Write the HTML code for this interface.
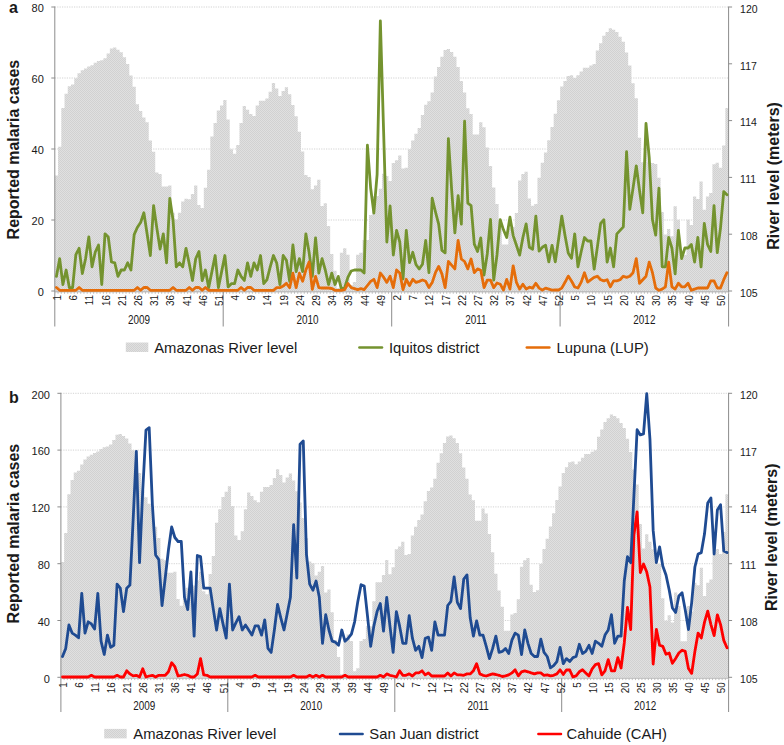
<!DOCTYPE html>
<html><head><meta charset="utf-8"><style>
html,body{margin:0;padding:0;background:#fff;}
body{width:784px;height:745px;overflow:hidden;}
svg{display:block;}
</style></head><body>
<svg width="784" height="745" viewBox="0 0 784 745" font-family='"Liberation Sans", sans-serif' fill="#1a1a1a">
<defs><pattern id="hatch" width="2" height="2" patternUnits="userSpaceOnUse"><rect width="2" height="2" fill="#e0e0e0"/><rect width="1" height="1" fill="#d1d1d1"/><rect x="1" y="1" width="1" height="1" fill="#d1d1d1"/></pattern></defs>
<rect width="784" height="745" fill="#fff"/>
<line x1="54.8" y1="220.00" x2="728.6" y2="220.00" stroke="#c8c8c8" stroke-width="0.8" stroke-dasharray="1.2,1.2"/>
<line x1="54.8" y1="149.00" x2="728.6" y2="149.00" stroke="#c8c8c8" stroke-width="0.8" stroke-dasharray="1.2,1.2"/>
<line x1="54.8" y1="78.00" x2="728.6" y2="78.00" stroke="#c8c8c8" stroke-width="0.8" stroke-dasharray="1.2,1.2"/>
<line x1="54.8" y1="7.00" x2="728.6" y2="7.00" stroke="#c8c8c8" stroke-width="0.8" stroke-dasharray="1.2,1.2"/>
<path d="M54.80,291.00L54.80,175.60L58.04,175.60L58.04,146.80L61.28,146.80L61.28,107.90L64.52,107.90L64.52,93.80L67.76,93.80L67.76,86.30L71.00,86.30L71.00,84.40L74.24,84.40L74.24,78.20L77.48,78.20L77.48,73.20L80.72,73.20L80.72,70.30L83.95,70.30L83.95,68.50L87.19,68.50L87.19,66.60L90.43,66.60L90.43,65.30L93.67,65.30L93.67,62.80L96.91,62.80L96.91,61.00L100.15,61.00L100.15,60.20L103.39,60.20L103.39,58.30L106.63,58.30L106.63,53.60L109.87,53.60L109.87,48.50L113.11,48.50L113.11,47.60L116.35,47.60L116.35,49.80L119.59,49.80L119.59,52.30L122.83,52.30L122.83,57.30L126.07,57.30L126.07,63.90L129.31,63.90L129.31,75.60L132.55,75.60L132.55,86.80L135.79,86.80L135.79,104.30L139.03,104.30L139.03,111.00L142.26,111.00L142.26,117.40L145.50,117.40L145.50,122.20L148.74,122.20L148.74,140.40L151.98,140.40L151.98,151.70L155.22,151.70L155.22,172.40L158.46,172.40L158.46,174.00L161.70,174.00L161.70,186.50L164.94,186.50L164.94,186.50L168.18,186.50L168.18,185.50L171.42,185.50L171.42,212.80L174.66,212.80L174.66,219.40L177.90,219.40L177.90,212.80L181.14,212.80L181.14,201.50L184.38,201.50L184.38,198.70L187.62,198.70L187.62,199.30L190.86,199.30L190.86,194.10L194.10,194.10L194.10,185.50L197.33,185.50L197.33,205.00L200.57,205.00L200.57,208.00L203.81,208.00L203.81,187.70L207.05,187.70L207.05,169.80L210.29,169.80L210.29,136.50L213.53,136.50L213.53,123.00L216.77,123.00L216.77,110.60L220.01,110.60L220.01,105.50L223.25,105.50L223.25,99.90L226.49,99.90L226.49,119.60L229.73,119.60L229.73,149.30L232.97,149.30L232.97,153.80L236.21,153.80L236.21,145.00L239.45,145.00L239.45,123.00L242.69,123.00L242.69,106.10L245.93,106.10L245.93,109.80L249.17,109.80L249.17,114.00L252.40,114.00L252.40,115.90L255.64,115.90L255.64,105.50L258.88,105.50L258.88,100.80L262.12,100.80L262.12,100.80L265.36,100.80L265.36,98.60L268.60,98.60L268.60,91.80L271.84,91.80L271.84,83.00L275.08,83.00L275.08,88.60L278.32,88.60L278.32,96.10L281.56,96.10L281.56,91.10L284.80,91.10L284.80,87.30L288.04,87.30L288.04,94.20L291.28,94.20L291.28,105.00L294.52,105.00L294.52,116.20L297.76,116.20L297.76,131.80L301.00,131.80L301.00,151.60L304.24,151.60L304.24,175.10L307.48,175.10L307.48,177.00L310.71,177.00L310.71,189.20L313.95,189.20L313.95,185.50L317.19,185.50L317.19,179.80L320.43,179.80L320.43,206.10L323.67,206.10L323.67,203.30L326.91,203.30L326.91,225.90L330.15,225.90L330.15,254.00L333.39,254.00L333.39,270.80L336.63,270.80L336.63,288.00L339.87,288.00L339.87,252.80L343.11,252.80L343.11,248.30L346.35,248.30L346.35,254.70L349.59,254.70L349.59,285.00L352.83,285.00L352.83,282.00L356.07,282.00L356.07,254.70L359.31,254.70L359.31,252.80L362.55,252.80L362.55,240.00L365.78,240.00L365.78,239.90L369.02,239.90L369.02,215.00L372.26,215.00L372.26,196.00L375.50,196.00L375.50,196.00L378.74,196.00L378.74,188.70L381.98,188.70L381.98,173.70L385.22,173.70L385.22,176.00L388.46,176.00L388.46,181.00L391.70,181.00L391.70,163.00L394.94,163.00L394.94,160.20L398.18,160.20L398.18,155.50L401.42,155.50L401.42,168.60L404.66,168.60L404.66,167.70L407.90,167.70L407.90,149.20L411.14,149.20L411.14,140.40L414.38,140.40L414.38,133.80L417.62,133.80L417.62,128.10L420.85,128.10L420.85,115.00L424.09,115.00L424.09,104.80L427.33,104.80L427.33,101.30L430.57,101.30L430.57,92.40L433.81,92.40L433.81,76.40L437.05,76.40L437.05,67.00L440.29,67.00L440.29,56.70L443.53,56.70L443.53,50.10L446.77,50.10L446.77,49.10L450.01,49.10L450.01,52.00L453.25,52.00L453.25,56.70L456.49,56.70L456.49,67.00L459.73,67.00L459.73,81.10L462.97,81.10L462.97,92.40L466.21,92.40L466.21,108.30L469.45,108.30L469.45,114.00L472.69,114.00L472.69,134.50L475.93,134.50L475.93,134.50L479.16,134.50L479.16,122.30L482.40,122.30L482.40,127.30L485.64,127.30L485.64,147.60L488.88,147.60L488.88,166.00L492.12,166.00L492.12,187.50L495.36,187.50L495.36,204.10L498.60,204.10L498.60,220.50L501.84,220.50L501.84,244.50L505.08,244.50L505.08,244.50L508.32,244.50L508.32,228.30L511.56,228.30L511.56,226.70L514.80,226.70L514.80,213.00L518.04,213.00L518.04,180.50L521.28,180.50L521.28,173.90L524.52,173.90L524.52,171.70L527.76,171.70L527.76,198.50L531.00,198.50L531.00,205.80L534.23,205.80L534.23,204.00L537.47,204.00L537.47,177.70L540.71,177.70L540.71,162.70L543.95,162.70L543.95,152.40L547.19,152.40L547.19,140.20L550.43,140.20L550.43,127.00L553.67,127.00L553.67,113.80L556.91,113.80L556.91,100.30L560.15,100.30L560.15,86.60L563.39,86.60L563.39,81.00L566.63,81.00L566.63,76.00L569.87,76.00L569.87,75.20L573.11,75.20L573.11,78.00L576.35,78.00L576.35,75.20L579.59,75.20L579.59,71.40L582.83,71.40L582.83,67.70L586.07,67.70L586.07,67.70L589.30,67.70L589.30,65.40L592.54,65.40L592.54,63.90L595.78,63.90L595.78,50.40L599.02,50.40L599.02,43.20L602.26,43.20L602.26,35.70L605.50,35.70L605.50,32.00L608.74,32.00L608.74,28.20L611.98,28.20L611.98,29.70L615.22,29.70L615.22,32.00L618.46,32.00L618.46,36.70L621.70,36.70L621.70,41.70L624.94,41.70L624.94,52.40L628.18,52.40L628.18,65.60L631.42,65.60L631.42,83.20L634.66,83.20L634.66,98.30L637.90,98.30L637.90,137.70L641.14,137.70L641.14,162.20L644.38,162.20L644.38,147.00L647.61,147.00L647.61,162.00L650.85,162.00L650.85,163.00L654.09,163.00L654.09,164.00L657.33,164.00L657.33,177.70L660.57,177.70L660.57,212.00L663.81,212.00L663.81,234.60L667.05,234.60L667.05,229.00L670.29,229.00L670.29,236.30L673.53,236.30L673.53,206.20L676.77,206.20L676.77,219.80L680.01,219.80L680.01,255.00L683.25,255.00L683.25,255.00L686.49,255.00L686.49,219.70L689.73,219.70L689.73,225.10L692.97,225.10L692.97,196.40L696.21,196.40L696.21,199.00L699.45,199.00L699.45,181.50L702.68,181.50L702.68,209.80L705.92,209.80L705.92,196.40L709.16,196.40L709.16,193.10L712.40,193.10L712.40,164.20L715.64,164.20L715.64,162.70L718.88,162.70L718.88,167.80L722.12,167.80L722.12,145.60L725.36,145.60L725.36,108.00L728.60,108.00L728.60,291.00Z" fill="url(#hatch)"/>
<line x1="54.8" y1="6.5" x2="54.8" y2="326.5" stroke="#8c8c8c" stroke-width="1"/>
<line x1="728.6" y1="6.5" x2="728.6" y2="326.5" stroke="#8c8c8c" stroke-width="1"/>
<line x1="54.8" y1="291.8" x2="728.6" y2="291.8" stroke="#a3a3a3" stroke-width="1"/>
<path d="M54.80,291.80v2M58.04,291.80v2M61.28,291.80v2M64.52,291.80v2M67.76,291.80v2M71.00,291.80v2M74.24,291.80v2M77.48,291.80v2M80.72,291.80v2M83.95,291.80v2M87.19,291.80v2M90.43,291.80v2M93.67,291.80v2M96.91,291.80v2M100.15,291.80v2M103.39,291.80v2M106.63,291.80v2M109.87,291.80v2M113.11,291.80v2M116.35,291.80v2M119.59,291.80v2M122.83,291.80v2M126.07,291.80v2M129.31,291.80v2M132.55,291.80v2M135.79,291.80v2M139.03,291.80v2M142.26,291.80v2M145.50,291.80v2M148.74,291.80v2M151.98,291.80v2M155.22,291.80v2M158.46,291.80v2M161.70,291.80v2M164.94,291.80v2M168.18,291.80v2M171.42,291.80v2M174.66,291.80v2M177.90,291.80v2M181.14,291.80v2M184.38,291.80v2M187.62,291.80v2M190.86,291.80v2M194.10,291.80v2M197.33,291.80v2M200.57,291.80v2M203.81,291.80v2M207.05,291.80v2M210.29,291.80v2M213.53,291.80v2M216.77,291.80v2M220.01,291.80v2M223.25,291.80v2M226.49,291.80v2M229.73,291.80v2M232.97,291.80v2M236.21,291.80v2M239.45,291.80v2M242.69,291.80v2M245.93,291.80v2M249.17,291.80v2M252.40,291.80v2M255.64,291.80v2M258.88,291.80v2M262.12,291.80v2M265.36,291.80v2M268.60,291.80v2M271.84,291.80v2M275.08,291.80v2M278.32,291.80v2M281.56,291.80v2M284.80,291.80v2M288.04,291.80v2M291.28,291.80v2M294.52,291.80v2M297.76,291.80v2M301.00,291.80v2M304.24,291.80v2M307.48,291.80v2M310.71,291.80v2M313.95,291.80v2M317.19,291.80v2M320.43,291.80v2M323.67,291.80v2M326.91,291.80v2M330.15,291.80v2M333.39,291.80v2M336.63,291.80v2M339.87,291.80v2M343.11,291.80v2M346.35,291.80v2M349.59,291.80v2M352.83,291.80v2M356.07,291.80v2M359.31,291.80v2M362.55,291.80v2M365.78,291.80v2M369.02,291.80v2M372.26,291.80v2M375.50,291.80v2M378.74,291.80v2M381.98,291.80v2M385.22,291.80v2M388.46,291.80v2M391.70,291.80v2M394.94,291.80v2M398.18,291.80v2M401.42,291.80v2M404.66,291.80v2M407.90,291.80v2M411.14,291.80v2M414.38,291.80v2M417.62,291.80v2M420.85,291.80v2M424.09,291.80v2M427.33,291.80v2M430.57,291.80v2M433.81,291.80v2M437.05,291.80v2M440.29,291.80v2M443.53,291.80v2M446.77,291.80v2M450.01,291.80v2M453.25,291.80v2M456.49,291.80v2M459.73,291.80v2M462.97,291.80v2M466.21,291.80v2M469.45,291.80v2M472.69,291.80v2M475.93,291.80v2M479.16,291.80v2M482.40,291.80v2M485.64,291.80v2M488.88,291.80v2M492.12,291.80v2M495.36,291.80v2M498.60,291.80v2M501.84,291.80v2M505.08,291.80v2M508.32,291.80v2M511.56,291.80v2M514.80,291.80v2M518.04,291.80v2M521.28,291.80v2M524.52,291.80v2M527.76,291.80v2M531.00,291.80v2M534.23,291.80v2M537.47,291.80v2M540.71,291.80v2M543.95,291.80v2M547.19,291.80v2M550.43,291.80v2M553.67,291.80v2M556.91,291.80v2M560.15,291.80v2M563.39,291.80v2M566.63,291.80v2M569.87,291.80v2M573.11,291.80v2M576.35,291.80v2M579.59,291.80v2M582.83,291.80v2M586.07,291.80v2M589.30,291.80v2M592.54,291.80v2M595.78,291.80v2M599.02,291.80v2M602.26,291.80v2M605.50,291.80v2M608.74,291.80v2M611.98,291.80v2M615.22,291.80v2M618.46,291.80v2M621.70,291.80v2M624.94,291.80v2M628.18,291.80v2M631.42,291.80v2M634.66,291.80v2M637.90,291.80v2M641.14,291.80v2M644.38,291.80v2M647.61,291.80v2M650.85,291.80v2M654.09,291.80v2M657.33,291.80v2M660.57,291.80v2M663.81,291.80v2M667.05,291.80v2M670.29,291.80v2M673.53,291.80v2M676.77,291.80v2M680.01,291.80v2M683.25,291.80v2M686.49,291.80v2M689.73,291.80v2M692.97,291.80v2M696.21,291.80v2M699.45,291.80v2M702.68,291.80v2M705.92,291.80v2M709.16,291.80v2M712.40,291.80v2M715.64,291.80v2M718.88,291.80v2M722.12,291.80v2M725.36,291.80v2M728.60,291.80v2" stroke="#b8b8b8" stroke-width="0.9" fill="none"/>
<line x1="223.2" y1="292.0" x2="223.2" y2="326.5" stroke="#8c8c8c" stroke-width="1"/>
<line x1="391.7" y1="292.0" x2="391.7" y2="326.5" stroke="#8c8c8c" stroke-width="1"/>
<line x1="560.1" y1="292.0" x2="560.1" y2="326.5" stroke="#8c8c8c" stroke-width="1"/>
<line x1="51.3" y1="291.00" x2="54.8" y2="291.00" stroke="#8c8c8c" stroke-width="1"/>
<text x="43.8" y="296.30" text-anchor="end" font-size="11">0</text>
<line x1="51.3" y1="220.00" x2="54.8" y2="220.00" stroke="#8c8c8c" stroke-width="1"/>
<text x="43.8" y="225.30" text-anchor="end" font-size="11">20</text>
<line x1="51.3" y1="149.00" x2="54.8" y2="149.00" stroke="#8c8c8c" stroke-width="1"/>
<text x="43.8" y="154.30" text-anchor="end" font-size="11">40</text>
<line x1="51.3" y1="78.00" x2="54.8" y2="78.00" stroke="#8c8c8c" stroke-width="1"/>
<text x="43.8" y="83.30" text-anchor="end" font-size="11">60</text>
<line x1="51.3" y1="7.00" x2="54.8" y2="7.00" stroke="#8c8c8c" stroke-width="1"/>
<text x="43.8" y="12.30" text-anchor="end" font-size="11">80</text>
<line x1="728.6" y1="291.00" x2="732.1" y2="291.00" stroke="#8c8c8c" stroke-width="1"/>
<text x="740.1" y="296.70" font-size="10.5">105</text>
<line x1="728.6" y1="234.20" x2="732.1" y2="234.20" stroke="#8c8c8c" stroke-width="1"/>
<text x="740.1" y="239.90" font-size="10.5">108</text>
<line x1="728.6" y1="177.40" x2="732.1" y2="177.40" stroke="#8c8c8c" stroke-width="1"/>
<text x="740.1" y="183.10" font-size="10.5">111</text>
<line x1="728.6" y1="120.60" x2="732.1" y2="120.60" stroke="#8c8c8c" stroke-width="1"/>
<text x="740.1" y="126.30" font-size="10.5">114</text>
<line x1="728.6" y1="63.80" x2="732.1" y2="63.80" stroke="#8c8c8c" stroke-width="1"/>
<text x="740.1" y="69.50" font-size="10.5">117</text>
<line x1="728.6" y1="7.00" x2="732.1" y2="7.00" stroke="#8c8c8c" stroke-width="1"/>
<text x="740.1" y="12.70" font-size="10.5">120</text>
<text transform="translate(60.92,295.00) rotate(-90) scale(0.9,1)" text-anchor="end" font-size="11">1</text>
<text transform="translate(77.12,295.00) rotate(-90) scale(0.9,1)" text-anchor="end" font-size="11">6</text>
<text transform="translate(93.31,295.00) rotate(-90) scale(0.9,1)" text-anchor="end" font-size="11">11</text>
<text transform="translate(109.51,295.00) rotate(-90) scale(0.9,1)" text-anchor="end" font-size="11">16</text>
<text transform="translate(125.71,295.00) rotate(-90) scale(0.9,1)" text-anchor="end" font-size="11">21</text>
<text transform="translate(141.91,295.00) rotate(-90) scale(0.9,1)" text-anchor="end" font-size="11">26</text>
<text transform="translate(158.10,295.00) rotate(-90) scale(0.9,1)" text-anchor="end" font-size="11">31</text>
<text transform="translate(174.30,295.00) rotate(-90) scale(0.9,1)" text-anchor="end" font-size="11">36</text>
<text transform="translate(190.50,295.00) rotate(-90) scale(0.9,1)" text-anchor="end" font-size="11">41</text>
<text transform="translate(206.69,295.00) rotate(-90) scale(0.9,1)" text-anchor="end" font-size="11">46</text>
<text transform="translate(222.89,295.00) rotate(-90) scale(0.9,1)" text-anchor="end" font-size="11">51</text>
<text transform="translate(239.09,295.00) rotate(-90) scale(0.9,1)" text-anchor="end" font-size="11">4</text>
<text transform="translate(255.29,295.00) rotate(-90) scale(0.9,1)" text-anchor="end" font-size="11">9</text>
<text transform="translate(271.48,295.00) rotate(-90) scale(0.9,1)" text-anchor="end" font-size="11">14</text>
<text transform="translate(287.68,295.00) rotate(-90) scale(0.9,1)" text-anchor="end" font-size="11">19</text>
<text transform="translate(303.88,295.00) rotate(-90) scale(0.9,1)" text-anchor="end" font-size="11">24</text>
<text transform="translate(320.07,295.00) rotate(-90) scale(0.9,1)" text-anchor="end" font-size="11">29</text>
<text transform="translate(336.27,295.00) rotate(-90) scale(0.9,1)" text-anchor="end" font-size="11">34</text>
<text transform="translate(352.47,295.00) rotate(-90) scale(0.9,1)" text-anchor="end" font-size="11">39</text>
<text transform="translate(368.66,295.00) rotate(-90) scale(0.9,1)" text-anchor="end" font-size="11">44</text>
<text transform="translate(384.86,295.00) rotate(-90) scale(0.9,1)" text-anchor="end" font-size="11">49</text>
<text transform="translate(401.06,295.00) rotate(-90) scale(0.9,1)" text-anchor="end" font-size="11">2</text>
<text transform="translate(417.26,295.00) rotate(-90) scale(0.9,1)" text-anchor="end" font-size="11">7</text>
<text transform="translate(433.45,295.00) rotate(-90) scale(0.9,1)" text-anchor="end" font-size="11">12</text>
<text transform="translate(449.65,295.00) rotate(-90) scale(0.9,1)" text-anchor="end" font-size="11">17</text>
<text transform="translate(465.85,295.00) rotate(-90) scale(0.9,1)" text-anchor="end" font-size="11">22</text>
<text transform="translate(482.04,295.00) rotate(-90) scale(0.9,1)" text-anchor="end" font-size="11">27</text>
<text transform="translate(498.24,295.00) rotate(-90) scale(0.9,1)" text-anchor="end" font-size="11">32</text>
<text transform="translate(514.44,295.00) rotate(-90) scale(0.9,1)" text-anchor="end" font-size="11">37</text>
<text transform="translate(530.64,295.00) rotate(-90) scale(0.9,1)" text-anchor="end" font-size="11">42</text>
<text transform="translate(546.83,295.00) rotate(-90) scale(0.9,1)" text-anchor="end" font-size="11">47</text>
<text transform="translate(563.03,295.00) rotate(-90) scale(0.9,1)" text-anchor="end" font-size="11">52</text>
<text transform="translate(579.23,295.00) rotate(-90) scale(0.9,1)" text-anchor="end" font-size="11">5</text>
<text transform="translate(595.42,295.00) rotate(-90) scale(0.9,1)" text-anchor="end" font-size="11">10</text>
<text transform="translate(611.62,295.00) rotate(-90) scale(0.9,1)" text-anchor="end" font-size="11">15</text>
<text transform="translate(627.82,295.00) rotate(-90) scale(0.9,1)" text-anchor="end" font-size="11">20</text>
<text transform="translate(644.02,295.00) rotate(-90) scale(0.9,1)" text-anchor="end" font-size="11">25</text>
<text transform="translate(660.21,295.00) rotate(-90) scale(0.9,1)" text-anchor="end" font-size="11">30</text>
<text transform="translate(676.41,295.00) rotate(-90) scale(0.9,1)" text-anchor="end" font-size="11">35</text>
<text transform="translate(692.61,295.00) rotate(-90) scale(0.9,1)" text-anchor="end" font-size="11">40</text>
<text transform="translate(708.80,295.00) rotate(-90) scale(0.9,1)" text-anchor="end" font-size="11">45</text>
<text transform="translate(725.00,295.00) rotate(-90) scale(0.9,1)" text-anchor="end" font-size="11">50</text>
<text transform="translate(139.03,323.60) scale(0.8,1)" text-anchor="middle" font-size="12.4">2009</text>
<text transform="translate(307.48,323.60) scale(0.8,1)" text-anchor="middle" font-size="12.4">2010</text>
<text transform="translate(475.93,323.60) scale(0.8,1)" text-anchor="middle" font-size="12.4">2011</text>
<text transform="translate(644.38,323.60) scale(0.8,1)" text-anchor="middle" font-size="12.4">2012</text>
<path d="M56.42,276.40 L59.66,258.70 L62.90,284.50 L66.14,270.00 L69.38,287.70 L72.62,287.70 L75.86,254.70 L79.10,248.30 L82.34,273.50 L85.57,258.70 L88.81,237.00 L92.05,266.80 L95.29,252.00 L98.53,245.00 L101.77,284.50 L105.01,233.80 L108.25,237.00 L111.49,262.00 L114.73,262.80 L117.97,276.40 L121.21,270.00 L124.45,270.00 L127.69,262.80 L130.93,270.00 L134.17,234.60 L137.41,227.30 L140.64,222.50 L143.88,212.80 L147.12,234.00 L150.36,255.50 L153.60,205.60 L156.84,228.10 L160.08,249.00 L163.32,233.80 L166.56,262.80 L169.80,198.30 L173.04,220.10 L176.28,266.80 L179.52,262.80 L182.76,266.80 L186.00,248.30 L189.24,263.60 L192.48,280.50 L195.71,258.70 L198.95,251.50 L202.19,280.50 L205.43,270.00 L208.67,287.70 L211.91,271.60 L215.15,255.50 L218.39,287.70 L221.63,271.60 L224.87,255.50 L228.11,286.90 L231.35,283.70 L234.59,283.70 L237.83,270.00 L241.07,276.40 L244.31,280.50 L247.55,262.80 L250.79,276.40 L254.02,262.80 L257.26,270.00 L260.50,255.50 L263.74,283.70 L266.98,279.70 L270.22,266.80 L273.46,255.50 L276.70,263.00 L279.94,284.50 L283.18,255.50 L286.42,260.30 L289.66,281.30 L292.90,245.00 L296.14,271.60 L299.38,258.70 L302.62,271.60 L305.86,233.80 L309.09,252.30 L312.33,276.40 L315.57,237.80 L318.81,273.20 L322.05,258.70 L325.29,270.00 L328.53,284.50 L331.77,273.20 L335.01,284.50 L338.25,276.40 L341.49,289.30 L344.73,287.50 L347.97,277.20 L351.21,271.00 L354.45,270.00 L357.69,270.00 L360.93,270.00 L364.16,273.00 L367.40,145.20 L370.64,188.00 L373.88,213.00 L377.12,174.30 L380.36,20.90 L383.60,131.00 L386.84,242.00 L390.08,206.00 L393.32,255.00 L396.56,230.50 L399.80,242.00 L403.04,279.00 L406.28,230.50 L409.52,262.70 L412.76,252.30 L416.00,264.70 L419.24,269.00 L422.47,264.30 L425.71,240.40 L428.95,272.70 L432.19,198.20 L435.43,211.80 L438.67,224.20 L441.91,250.30 L445.15,252.80 L448.39,138.60 L451.63,189.50 L454.87,232.90 L458.11,195.70 L461.35,224.20 L464.59,121.20 L467.83,203.10 L471.07,205.60 L474.31,244.10 L477.54,251.50 L480.78,237.90 L484.02,275.10 L487.26,254.00 L490.50,219.30 L493.74,280.10 L496.98,255.00 L500.22,219.60 L503.46,229.80 L506.70,237.50 L509.94,217.10 L513.18,235.60 L516.42,245.30 L519.66,255.10 L522.90,237.50 L526.14,223.90 L529.38,247.30 L532.61,249.20 L535.85,216.10 L539.09,251.20 L542.33,247.30 L545.57,245.30 L548.81,261.90 L552.05,245.30 L555.29,261.90 L558.53,239.50 L561.77,216.10 L565.01,235.60 L568.25,253.10 L571.49,258.30 L574.73,233.80 L577.97,266.80 L581.21,251.50 L584.45,237.50 L587.69,241.00 L590.92,241.00 L594.16,269.20 L597.40,246.90 L600.64,223.40 L603.88,219.80 L607.12,262.10 L610.36,248.00 L613.60,266.80 L616.84,233.90 L620.08,230.40 L623.32,226.90 L626.56,151.70 L629.80,209.30 L633.04,188.10 L636.28,165.80 L639.52,190.50 L642.76,212.80 L645.99,123.50 L649.23,157.60 L652.47,219.80 L655.71,235.10 L658.95,188.10 L662.19,266.80 L665.43,266.80 L668.67,237.50 L671.91,248.00 L675.15,273.90 L678.39,230.40 L681.63,258.60 L684.87,248.00 L688.11,248.00 L691.35,244.50 L694.59,262.10 L697.83,237.50 L701.06,266.80 L704.30,223.40 L707.54,244.50 L710.78,251.50 L714.02,205.70 L717.26,252.70 L720.50,228.10 L723.74,191.60 L726.98,194.70" fill="none" stroke="#74932f" stroke-width="2.8" stroke-linejoin="round" stroke-linecap="round"/>
<path d="M56.42,287.50 L59.66,290.30 L62.90,290.30 L66.14,290.30 L69.38,290.30 L72.62,290.30 L75.86,290.30 L79.10,287.50 L82.34,290.30 L85.57,290.30 L88.81,290.30 L92.05,290.30 L95.29,290.30 L98.53,290.30 L101.77,290.30 L105.01,290.30 L108.25,290.30 L111.49,290.30 L114.73,290.30 L117.97,290.30 L121.21,290.30 L124.45,290.30 L127.69,290.30 L130.93,290.30 L134.17,290.30 L137.41,287.50 L140.64,290.30 L143.88,287.50 L147.12,287.50 L150.36,290.30 L153.60,290.30 L156.84,290.30 L160.08,290.30 L163.32,290.30 L166.56,290.30 L169.80,290.30 L173.04,287.50 L176.28,290.30 L179.52,290.30 L182.76,290.30 L186.00,290.30 L189.24,287.50 L192.48,290.30 L195.71,287.50 L198.95,287.50 L202.19,290.30 L205.43,287.50 L208.67,290.30 L211.91,290.30 L215.15,290.30 L218.39,290.30 L221.63,290.30 L224.87,290.30 L228.11,290.30 L231.35,290.30 L234.59,290.30 L237.83,290.30 L241.07,287.50 L244.31,290.30 L247.55,287.50 L250.79,287.50 L254.02,290.30 L257.26,290.30 L260.50,290.30 L263.74,290.30 L266.98,290.30 L270.22,290.30 L273.46,290.30 L276.70,287.70 L279.94,287.70 L283.18,286.10 L286.42,283.20 L289.66,287.70 L292.90,273.20 L296.14,287.70 L299.38,273.20 L302.62,281.30 L305.86,270.00 L309.09,262.00 L312.33,289.30 L315.57,276.40 L318.81,287.70 L322.05,288.00 L325.29,288.00 L328.53,288.00 L331.77,288.50 L335.01,290.30 L338.25,290.30 L341.49,290.30 L344.73,289.70 L347.97,283.50 L351.21,287.60 L354.45,288.60 L357.69,289.70 L360.93,288.60 L364.16,289.70 L367.40,285.50 L370.64,281.40 L373.88,279.30 L377.12,287.60 L380.36,273.00 L383.60,277.20 L386.84,282.40 L390.08,276.20 L393.32,287.60 L396.56,270.00 L399.80,273.00 L403.04,289.70 L406.28,279.30 L409.52,285.50 L412.76,279.30 L416.00,282.40 L419.24,281.40 L422.47,280.00 L425.71,281.30 L428.95,287.60 L432.19,282.60 L435.43,272.70 L438.67,266.40 L441.91,273.90 L445.15,287.60 L448.39,261.50 L451.63,265.20 L454.87,268.90 L458.11,240.40 L461.35,259.00 L464.59,261.50 L467.83,268.90 L471.07,259.00 L474.31,272.70 L477.54,268.90 L480.78,270.20 L484.02,287.60 L487.26,280.10 L490.50,280.10 L493.74,287.60 L496.98,283.00 L500.22,284.20 L503.46,290.10 L506.70,279.40 L509.94,289.10 L513.18,265.80 L516.42,282.30 L519.66,289.10 L522.90,284.20 L526.14,289.10 L529.38,287.20 L532.61,288.10 L535.85,283.30 L539.09,288.10 L542.33,290.10 L545.57,288.10 L548.81,289.10 L552.05,290.10 L555.29,290.00 L558.53,290.00 L561.77,288.10 L565.01,282.30 L568.25,276.10 L571.49,281.00 L574.73,287.00 L577.97,288.00 L581.21,282.10 L584.45,272.70 L587.69,282.10 L590.92,279.70 L594.16,277.40 L597.40,276.20 L600.64,279.70 L603.88,280.90 L607.12,279.70 L610.36,286.80 L613.60,280.90 L616.84,280.90 L620.08,279.70 L623.32,276.20 L626.56,277.40 L629.80,276.20 L633.04,272.70 L636.28,258.60 L639.52,283.30 L642.76,279.70 L645.99,276.20 L649.23,262.10 L652.47,272.70 L655.71,288.00 L658.95,290.30 L662.19,289.10 L665.43,286.80 L668.67,262.10 L671.91,286.80 L675.15,289.10 L678.39,283.30 L681.63,286.80 L684.87,286.80 L688.11,283.30 L691.35,290.30 L694.59,289.10 L697.83,288.00 L701.06,288.00 L704.30,288.00 L707.54,288.00 L710.78,280.90 L714.02,280.90 L717.26,288.00 L720.50,288.00 L723.74,279.70 L726.98,272.70" fill="none" stroke="#e56d0a" stroke-width="2.8" stroke-linejoin="round" stroke-linecap="round"/>
<text x="9" y="12.8" font-size="16" font-weight="bold">a</text>
<line x1="60.9" y1="620.50" x2="728.6" y2="620.50" stroke="#c8c8c8" stroke-width="0.8" stroke-dasharray="1.2,1.2"/>
<line x1="60.9" y1="563.70" x2="728.6" y2="563.70" stroke="#c8c8c8" stroke-width="0.8" stroke-dasharray="1.2,1.2"/>
<line x1="60.9" y1="506.90" x2="728.6" y2="506.90" stroke="#c8c8c8" stroke-width="0.8" stroke-dasharray="1.2,1.2"/>
<line x1="60.9" y1="450.10" x2="728.6" y2="450.10" stroke="#c8c8c8" stroke-width="0.8" stroke-dasharray="1.2,1.2"/>
<line x1="60.9" y1="393.30" x2="728.6" y2="393.30" stroke="#c8c8c8" stroke-width="0.8" stroke-dasharray="1.2,1.2"/>
<path d="M60.90,677.30L60.90,561.90L64.11,561.90L64.11,533.10L67.32,533.10L67.32,494.20L70.53,494.20L70.53,480.10L73.74,480.10L73.74,472.60L76.95,472.60L76.95,470.70L80.16,470.70L80.16,464.50L83.37,464.50L83.37,459.50L86.58,459.50L86.58,456.60L89.79,456.60L89.79,454.80L93.00,454.80L93.00,452.90L96.21,452.90L96.21,451.60L99.42,451.60L99.42,449.10L102.63,449.10L102.63,447.30L105.84,447.30L105.84,446.50L109.05,446.50L109.05,444.60L112.26,444.60L112.26,439.90L115.47,439.90L115.47,434.80L118.68,434.80L118.68,433.90L121.89,433.90L121.89,436.10L125.10,436.10L125.10,438.60L128.31,438.60L128.31,443.60L131.52,443.60L131.52,450.20L134.73,450.20L134.73,461.90L137.94,461.90L137.94,473.10L141.15,473.10L141.15,490.60L144.36,490.60L144.36,497.30L147.57,497.30L147.57,503.70L150.78,503.70L150.78,508.50L153.99,508.50L153.99,526.70L157.20,526.70L157.20,538.00L160.41,538.00L160.41,558.70L163.62,558.70L163.62,560.30L166.83,560.30L166.83,572.80L170.04,572.80L170.04,572.80L173.25,572.80L173.25,571.80L176.46,571.80L176.46,599.10L179.67,599.10L179.67,605.70L182.88,605.70L182.88,599.10L186.09,599.10L186.09,587.80L189.30,587.80L189.30,585.00L192.51,585.00L192.51,585.60L195.72,585.60L195.72,580.40L198.93,580.40L198.93,571.80L202.14,571.80L202.14,591.30L205.35,591.30L205.35,594.30L208.56,594.30L208.56,574.00L211.77,574.00L211.77,556.10L214.98,556.10L214.98,522.80L218.19,522.80L218.19,509.30L221.40,509.30L221.40,496.90L224.61,496.90L224.61,491.80L227.83,491.80L227.83,486.20L231.04,486.20L231.04,505.90L234.25,505.90L234.25,535.60L237.46,535.60L237.46,540.10L240.67,540.10L240.67,531.30L243.88,531.30L243.88,509.30L247.09,509.30L247.09,492.40L250.30,492.40L250.30,496.10L253.51,496.10L253.51,500.30L256.72,500.30L256.72,502.20L259.93,502.20L259.93,491.80L263.14,491.80L263.14,487.10L266.35,487.10L266.35,487.10L269.56,487.10L269.56,484.90L272.77,484.90L272.77,478.10L275.98,478.10L275.98,469.30L279.19,469.30L279.19,474.90L282.40,474.90L282.40,482.40L285.61,482.40L285.61,477.40L288.82,477.40L288.82,473.60L292.03,473.60L292.03,480.50L295.24,480.50L295.24,491.30L298.45,491.30L298.45,502.50L301.66,502.50L301.66,518.10L304.87,518.10L304.87,537.90L308.08,537.90L308.08,561.40L311.29,561.40L311.29,563.30L314.50,563.30L314.50,575.50L317.71,575.50L317.71,571.80L320.92,571.80L320.92,566.10L324.13,566.10L324.13,592.40L327.34,592.40L327.34,589.60L330.55,589.60L330.55,612.20L333.76,612.20L333.76,640.30L336.97,640.30L336.97,657.10L340.18,657.10L340.18,674.30L343.39,674.30L343.39,639.10L346.60,639.10L346.60,634.60L349.81,634.60L349.81,641.00L353.02,641.00L353.02,671.30L356.23,671.30L356.23,668.30L359.44,668.30L359.44,641.00L362.65,641.00L362.65,639.10L365.86,639.10L365.86,626.30L369.07,626.30L369.07,626.20L372.28,626.20L372.28,601.30L375.49,601.30L375.49,582.30L378.70,582.30L378.70,582.30L381.91,582.30L381.91,575.00L385.12,575.00L385.12,560.00L388.33,560.00L388.33,574.30L391.54,574.30L391.54,567.30L394.75,567.30L394.75,549.30L397.96,549.30L397.96,546.50L401.17,546.50L401.17,541.80L404.38,541.80L404.38,554.90L407.59,554.90L407.59,554.00L410.80,554.00L410.80,535.50L414.01,535.50L414.01,526.70L417.22,526.70L417.22,520.10L420.43,520.10L420.43,514.40L423.64,514.40L423.64,501.30L426.85,501.30L426.85,491.10L430.06,491.10L430.06,487.60L433.27,487.60L433.27,478.70L436.48,478.70L436.48,462.70L439.69,462.70L439.69,453.30L442.90,453.30L442.90,443.00L446.11,443.00L446.11,436.40L449.32,436.40L449.32,435.40L452.53,435.40L452.53,438.30L455.74,438.30L455.74,443.00L458.95,443.00L458.95,453.30L462.16,453.30L462.16,467.40L465.37,467.40L465.37,478.70L468.58,478.70L468.58,494.60L471.79,494.60L471.79,500.30L475.00,500.30L475.00,520.80L478.21,520.80L478.21,520.80L481.42,520.80L481.42,508.60L484.63,508.60L484.63,513.60L487.84,513.60L487.84,533.90L491.05,533.90L491.05,552.30L494.26,552.30L494.26,573.80L497.47,573.80L497.47,590.40L500.68,590.40L500.68,606.80L503.89,606.80L503.89,630.80L507.10,630.80L507.10,630.80L510.31,630.80L510.31,614.60L513.52,614.60L513.52,613.00L516.73,613.00L516.73,599.30L519.94,599.30L519.94,566.80L523.15,566.80L523.15,560.20L526.36,560.20L526.36,558.00L529.57,558.00L529.57,584.80L532.78,584.80L532.78,592.10L535.99,592.10L535.99,590.30L539.20,590.30L539.20,564.00L542.41,564.00L542.41,549.00L545.62,549.00L545.62,538.70L548.83,538.70L548.83,526.50L552.04,526.50L552.04,513.30L555.25,513.30L555.25,500.10L558.46,500.10L558.46,486.60L561.68,486.60L561.68,472.90L564.89,472.90L564.89,467.30L568.10,467.30L568.10,462.30L571.31,462.30L571.31,461.50L574.52,461.50L574.52,464.30L577.73,464.30L577.73,461.50L580.94,461.50L580.94,457.70L584.15,457.70L584.15,454.00L587.36,454.00L587.36,454.00L590.57,454.00L590.57,451.70L593.78,451.70L593.78,450.20L596.99,450.20L596.99,436.70L600.20,436.70L600.20,429.50L603.41,429.50L603.41,422.00L606.62,422.00L606.62,418.30L609.83,418.30L609.83,414.50L613.04,414.50L613.04,416.00L616.25,416.00L616.25,418.30L619.46,418.30L619.46,423.00L622.67,423.00L622.67,428.00L625.88,428.00L625.88,438.70L629.09,438.70L629.09,451.90L632.30,451.90L632.30,469.50L635.51,469.50L635.51,484.60L638.72,484.60L638.72,524.00L641.93,524.00L641.93,548.50L645.14,548.50L645.14,534.30L648.35,534.30L648.35,541.80L651.56,541.80L651.56,549.30L654.77,549.30L654.77,562.30L657.98,562.30L657.98,564.00L661.19,564.00L661.19,598.30L664.40,598.30L664.40,620.90L667.61,620.90L667.61,615.30L670.82,615.30L670.82,622.60L674.03,622.60L674.03,592.50L677.24,592.50L677.24,606.10L680.45,606.10L680.45,641.30L683.66,641.30L683.66,641.30L686.87,641.30L686.87,606.00L690.08,606.00L690.08,611.40L693.29,611.40L693.29,582.70L696.50,582.70L696.50,585.30L699.71,585.30L699.71,567.80L702.92,567.80L702.92,596.10L706.13,596.10L706.13,582.70L709.34,582.70L709.34,579.40L712.55,579.40L712.55,550.50L715.76,550.50L715.76,549.00L718.97,549.00L718.97,554.10L722.18,554.10L722.18,531.90L725.39,531.90L725.39,494.30L728.60,494.30L728.60,677.30Z" fill="url(#hatch)"/>
<line x1="60.9" y1="392.8" x2="60.9" y2="712.0" stroke="#8c8c8c" stroke-width="1"/>
<line x1="728.6" y1="392.8" x2="728.6" y2="712.0" stroke="#8c8c8c" stroke-width="1"/>
<line x1="60.9" y1="678.1" x2="728.6" y2="678.1" stroke="#a3a3a3" stroke-width="1"/>
<path d="M60.90,678.10v2M64.11,678.10v2M67.32,678.10v2M70.53,678.10v2M73.74,678.10v2M76.95,678.10v2M80.16,678.10v2M83.37,678.10v2M86.58,678.10v2M89.79,678.10v2M93.00,678.10v2M96.21,678.10v2M99.42,678.10v2M102.63,678.10v2M105.84,678.10v2M109.05,678.10v2M112.26,678.10v2M115.47,678.10v2M118.68,678.10v2M121.89,678.10v2M125.10,678.10v2M128.31,678.10v2M131.52,678.10v2M134.73,678.10v2M137.94,678.10v2M141.15,678.10v2M144.36,678.10v2M147.57,678.10v2M150.78,678.10v2M153.99,678.10v2M157.20,678.10v2M160.41,678.10v2M163.62,678.10v2M166.83,678.10v2M170.04,678.10v2M173.25,678.10v2M176.46,678.10v2M179.67,678.10v2M182.88,678.10v2M186.09,678.10v2M189.30,678.10v2M192.51,678.10v2M195.72,678.10v2M198.93,678.10v2M202.14,678.10v2M205.35,678.10v2M208.56,678.10v2M211.77,678.10v2M214.98,678.10v2M218.19,678.10v2M221.40,678.10v2M224.61,678.10v2M227.83,678.10v2M231.04,678.10v2M234.25,678.10v2M237.46,678.10v2M240.67,678.10v2M243.88,678.10v2M247.09,678.10v2M250.30,678.10v2M253.51,678.10v2M256.72,678.10v2M259.93,678.10v2M263.14,678.10v2M266.35,678.10v2M269.56,678.10v2M272.77,678.10v2M275.98,678.10v2M279.19,678.10v2M282.40,678.10v2M285.61,678.10v2M288.82,678.10v2M292.03,678.10v2M295.24,678.10v2M298.45,678.10v2M301.66,678.10v2M304.87,678.10v2M308.08,678.10v2M311.29,678.10v2M314.50,678.10v2M317.71,678.10v2M320.92,678.10v2M324.13,678.10v2M327.34,678.10v2M330.55,678.10v2M333.76,678.10v2M336.97,678.10v2M340.18,678.10v2M343.39,678.10v2M346.60,678.10v2M349.81,678.10v2M353.02,678.10v2M356.23,678.10v2M359.44,678.10v2M362.65,678.10v2M365.86,678.10v2M369.07,678.10v2M372.28,678.10v2M375.49,678.10v2M378.70,678.10v2M381.91,678.10v2M385.12,678.10v2M388.33,678.10v2M391.54,678.10v2M394.75,678.10v2M397.96,678.10v2M401.17,678.10v2M404.38,678.10v2M407.59,678.10v2M410.80,678.10v2M414.01,678.10v2M417.22,678.10v2M420.43,678.10v2M423.64,678.10v2M426.85,678.10v2M430.06,678.10v2M433.27,678.10v2M436.48,678.10v2M439.69,678.10v2M442.90,678.10v2M446.11,678.10v2M449.32,678.10v2M452.53,678.10v2M455.74,678.10v2M458.95,678.10v2M462.16,678.10v2M465.37,678.10v2M468.58,678.10v2M471.79,678.10v2M475.00,678.10v2M478.21,678.10v2M481.42,678.10v2M484.63,678.10v2M487.84,678.10v2M491.05,678.10v2M494.26,678.10v2M497.47,678.10v2M500.68,678.10v2M503.89,678.10v2M507.10,678.10v2M510.31,678.10v2M513.52,678.10v2M516.73,678.10v2M519.94,678.10v2M523.15,678.10v2M526.36,678.10v2M529.57,678.10v2M532.78,678.10v2M535.99,678.10v2M539.20,678.10v2M542.41,678.10v2M545.62,678.10v2M548.83,678.10v2M552.04,678.10v2M555.25,678.10v2M558.46,678.10v2M561.68,678.10v2M564.89,678.10v2M568.10,678.10v2M571.31,678.10v2M574.52,678.10v2M577.73,678.10v2M580.94,678.10v2M584.15,678.10v2M587.36,678.10v2M590.57,678.10v2M593.78,678.10v2M596.99,678.10v2M600.20,678.10v2M603.41,678.10v2M606.62,678.10v2M609.83,678.10v2M613.04,678.10v2M616.25,678.10v2M619.46,678.10v2M622.67,678.10v2M625.88,678.10v2M629.09,678.10v2M632.30,678.10v2M635.51,678.10v2M638.72,678.10v2M641.93,678.10v2M645.14,678.10v2M648.35,678.10v2M651.56,678.10v2M654.77,678.10v2M657.98,678.10v2M661.19,678.10v2M664.40,678.10v2M667.61,678.10v2M670.82,678.10v2M674.03,678.10v2M677.24,678.10v2M680.45,678.10v2M683.66,678.10v2M686.87,678.10v2M690.08,678.10v2M693.29,678.10v2M696.50,678.10v2M699.71,678.10v2M702.92,678.10v2M706.13,678.10v2M709.34,678.10v2M712.55,678.10v2M715.76,678.10v2M718.97,678.10v2M722.18,678.10v2M725.39,678.10v2M728.60,678.10v2" stroke="#b8b8b8" stroke-width="0.9" fill="none"/>
<line x1="227.8" y1="678.3" x2="227.8" y2="712.0" stroke="#8c8c8c" stroke-width="1"/>
<line x1="394.8" y1="678.3" x2="394.8" y2="712.0" stroke="#8c8c8c" stroke-width="1"/>
<line x1="561.7" y1="678.3" x2="561.7" y2="712.0" stroke="#8c8c8c" stroke-width="1"/>
<line x1="57.4" y1="677.30" x2="60.9" y2="677.30" stroke="#8c8c8c" stroke-width="1"/>
<text x="49.9" y="682.60" text-anchor="end" font-size="11">0</text>
<line x1="57.4" y1="620.50" x2="60.9" y2="620.50" stroke="#8c8c8c" stroke-width="1"/>
<text x="49.9" y="625.80" text-anchor="end" font-size="11">40</text>
<line x1="57.4" y1="563.70" x2="60.9" y2="563.70" stroke="#8c8c8c" stroke-width="1"/>
<text x="49.9" y="569.00" text-anchor="end" font-size="11">80</text>
<line x1="57.4" y1="506.90" x2="60.9" y2="506.90" stroke="#8c8c8c" stroke-width="1"/>
<text x="49.9" y="512.20" text-anchor="end" font-size="11">120</text>
<line x1="57.4" y1="450.10" x2="60.9" y2="450.10" stroke="#8c8c8c" stroke-width="1"/>
<text x="49.9" y="455.40" text-anchor="end" font-size="11">160</text>
<line x1="57.4" y1="393.30" x2="60.9" y2="393.30" stroke="#8c8c8c" stroke-width="1"/>
<text x="49.9" y="398.60" text-anchor="end" font-size="11">200</text>
<line x1="728.6" y1="677.30" x2="732.1" y2="677.30" stroke="#8c8c8c" stroke-width="1"/>
<text x="740.1" y="683.00" font-size="10.5">105</text>
<line x1="728.6" y1="620.50" x2="732.1" y2="620.50" stroke="#8c8c8c" stroke-width="1"/>
<text x="740.1" y="626.20" font-size="10.5">108</text>
<line x1="728.6" y1="563.70" x2="732.1" y2="563.70" stroke="#8c8c8c" stroke-width="1"/>
<text x="740.1" y="569.40" font-size="10.5">111</text>
<line x1="728.6" y1="506.90" x2="732.1" y2="506.90" stroke="#8c8c8c" stroke-width="1"/>
<text x="740.1" y="512.60" font-size="10.5">114</text>
<line x1="728.6" y1="450.10" x2="732.1" y2="450.10" stroke="#8c8c8c" stroke-width="1"/>
<text x="740.1" y="455.80" font-size="10.5">117</text>
<line x1="728.6" y1="393.30" x2="732.1" y2="393.30" stroke="#8c8c8c" stroke-width="1"/>
<text x="740.1" y="399.00" font-size="10.5">120</text>
<text transform="translate(67.01,682.30) rotate(-90) scale(0.9,1)" text-anchor="end" font-size="11">1</text>
<text transform="translate(83.06,682.30) rotate(-90) scale(0.9,1)" text-anchor="end" font-size="11">6</text>
<text transform="translate(99.11,682.30) rotate(-90) scale(0.9,1)" text-anchor="end" font-size="11">11</text>
<text transform="translate(115.16,682.30) rotate(-90) scale(0.9,1)" text-anchor="end" font-size="11">16</text>
<text transform="translate(131.21,682.30) rotate(-90) scale(0.9,1)" text-anchor="end" font-size="11">21</text>
<text transform="translate(147.26,682.30) rotate(-90) scale(0.9,1)" text-anchor="end" font-size="11">26</text>
<text transform="translate(163.31,682.30) rotate(-90) scale(0.9,1)" text-anchor="end" font-size="11">31</text>
<text transform="translate(179.36,682.30) rotate(-90) scale(0.9,1)" text-anchor="end" font-size="11">36</text>
<text transform="translate(195.41,682.30) rotate(-90) scale(0.9,1)" text-anchor="end" font-size="11">41</text>
<text transform="translate(211.46,682.30) rotate(-90) scale(0.9,1)" text-anchor="end" font-size="11">46</text>
<text transform="translate(227.51,682.30) rotate(-90) scale(0.9,1)" text-anchor="end" font-size="11">51</text>
<text transform="translate(243.56,682.30) rotate(-90) scale(0.9,1)" text-anchor="end" font-size="11">4</text>
<text transform="translate(259.61,682.30) rotate(-90) scale(0.9,1)" text-anchor="end" font-size="11">9</text>
<text transform="translate(275.66,682.30) rotate(-90) scale(0.9,1)" text-anchor="end" font-size="11">14</text>
<text transform="translate(291.71,682.30) rotate(-90) scale(0.9,1)" text-anchor="end" font-size="11">19</text>
<text transform="translate(307.76,682.30) rotate(-90) scale(0.9,1)" text-anchor="end" font-size="11">24</text>
<text transform="translate(323.81,682.30) rotate(-90) scale(0.9,1)" text-anchor="end" font-size="11">29</text>
<text transform="translate(339.86,682.30) rotate(-90) scale(0.9,1)" text-anchor="end" font-size="11">34</text>
<text transform="translate(355.91,682.30) rotate(-90) scale(0.9,1)" text-anchor="end" font-size="11">39</text>
<text transform="translate(371.96,682.30) rotate(-90) scale(0.9,1)" text-anchor="end" font-size="11">44</text>
<text transform="translate(388.01,682.30) rotate(-90) scale(0.9,1)" text-anchor="end" font-size="11">49</text>
<text transform="translate(404.07,682.30) rotate(-90) scale(0.9,1)" text-anchor="end" font-size="11">2</text>
<text transform="translate(420.12,682.30) rotate(-90) scale(0.9,1)" text-anchor="end" font-size="11">7</text>
<text transform="translate(436.17,682.30) rotate(-90) scale(0.9,1)" text-anchor="end" font-size="11">12</text>
<text transform="translate(452.22,682.30) rotate(-90) scale(0.9,1)" text-anchor="end" font-size="11">17</text>
<text transform="translate(468.27,682.30) rotate(-90) scale(0.9,1)" text-anchor="end" font-size="11">22</text>
<text transform="translate(484.32,682.30) rotate(-90) scale(0.9,1)" text-anchor="end" font-size="11">27</text>
<text transform="translate(500.37,682.30) rotate(-90) scale(0.9,1)" text-anchor="end" font-size="11">32</text>
<text transform="translate(516.42,682.30) rotate(-90) scale(0.9,1)" text-anchor="end" font-size="11">37</text>
<text transform="translate(532.47,682.30) rotate(-90) scale(0.9,1)" text-anchor="end" font-size="11">42</text>
<text transform="translate(548.52,682.30) rotate(-90) scale(0.9,1)" text-anchor="end" font-size="11">47</text>
<text transform="translate(564.57,682.30) rotate(-90) scale(0.9,1)" text-anchor="end" font-size="11">52</text>
<text transform="translate(580.62,682.30) rotate(-90) scale(0.9,1)" text-anchor="end" font-size="11">5</text>
<text transform="translate(596.67,682.30) rotate(-90) scale(0.9,1)" text-anchor="end" font-size="11">10</text>
<text transform="translate(612.72,682.30) rotate(-90) scale(0.9,1)" text-anchor="end" font-size="11">15</text>
<text transform="translate(628.77,682.30) rotate(-90) scale(0.9,1)" text-anchor="end" font-size="11">20</text>
<text transform="translate(644.82,682.30) rotate(-90) scale(0.9,1)" text-anchor="end" font-size="11">25</text>
<text transform="translate(660.87,682.30) rotate(-90) scale(0.9,1)" text-anchor="end" font-size="11">30</text>
<text transform="translate(676.92,682.30) rotate(-90) scale(0.9,1)" text-anchor="end" font-size="11">35</text>
<text transform="translate(692.97,682.30) rotate(-90) scale(0.9,1)" text-anchor="end" font-size="11">40</text>
<text transform="translate(709.02,682.30) rotate(-90) scale(0.9,1)" text-anchor="end" font-size="11">45</text>
<text transform="translate(725.07,682.30) rotate(-90) scale(0.9,1)" text-anchor="end" font-size="11">50</text>
<text transform="translate(144.36,709.90) scale(0.8,1)" text-anchor="middle" font-size="12.4">2009</text>
<text transform="translate(311.29,709.90) scale(0.8,1)" text-anchor="middle" font-size="12.4">2010</text>
<text transform="translate(478.21,709.90) scale(0.8,1)" text-anchor="middle" font-size="12.4">2011</text>
<text transform="translate(645.14,709.90) scale(0.8,1)" text-anchor="middle" font-size="12.4">2012</text>
<path d="M62.51,677.00 L65.72,677.00 L68.93,677.00 L72.14,677.00 L75.35,677.00 L78.56,677.00 L81.77,677.00 L84.98,677.00 L88.19,677.00 L91.40,675.30 L94.61,677.00 L97.82,677.00 L101.03,677.00 L104.24,677.00 L107.45,677.00 L110.66,677.00 L113.87,677.00 L117.08,675.30 L120.29,677.00 L123.50,677.00 L126.71,670.80 L129.92,673.90 L133.13,675.90 L136.34,675.30 L139.55,677.00 L142.76,668.80 L145.97,677.00 L149.18,676.00 L152.39,675.30 L155.60,677.00 L158.81,675.30 L162.02,675.30 L165.23,675.30 L168.44,671.80 L171.65,662.70 L174.86,666.70 L178.07,676.00 L181.28,675.30 L184.49,674.50 L187.70,675.30 L190.91,677.00 L194.12,677.00 L197.33,674.00 L200.54,658.60 L203.75,674.90 L206.96,675.30 L210.17,677.00 L213.38,677.00 L216.59,677.00 L219.80,677.00 L223.01,677.00 L226.22,677.00 L229.43,677.00 L232.64,677.00 L235.85,677.00 L239.06,677.00 L242.27,677.00 L245.48,677.00 L248.69,677.00 L251.90,677.00 L255.11,675.30 L258.32,677.00 L261.53,677.00 L264.74,677.00 L267.95,677.00 L271.16,677.00 L274.37,677.00 L277.58,677.00 L280.79,677.00 L284.00,677.00 L287.21,677.00 L290.42,677.00 L293.63,675.30 L296.84,677.00 L300.05,677.00 L303.26,677.00 L306.47,677.00 L309.68,675.30 L312.89,677.00 L316.10,675.30 L319.31,677.00 L322.52,675.30 L325.73,677.00 L328.94,677.00 L332.15,677.00 L335.36,677.00 L338.57,677.00 L341.78,677.00 L344.99,675.30 L348.20,677.00 L351.41,677.00 L354.62,677.00 L357.83,677.00 L361.04,677.00 L364.25,677.00 L367.46,677.00 L370.67,677.00 L373.88,677.00 L377.09,677.00 L380.30,675.30 L383.51,677.00 L386.72,673.90 L389.93,675.30 L393.14,676.00 L396.36,677.00 L399.57,670.80 L402.78,675.30 L405.99,675.30 L409.20,673.90 L412.41,676.00 L415.62,672.90 L418.83,672.90 L422.04,670.80 L425.25,674.90 L428.46,672.90 L431.67,676.00 L434.88,676.00 L438.09,676.00 L441.30,676.00 L444.51,676.00 L447.72,672.90 L450.93,676.00 L454.14,672.90 L457.35,674.90 L460.56,674.90 L463.77,675.30 L466.98,673.90 L470.19,673.90 L473.40,670.80 L476.61,663.70 L479.82,673.90 L483.03,675.30 L486.24,676.00 L489.45,674.90 L492.66,673.90 L495.87,674.50 L499.08,675.30 L502.29,676.50 L505.50,675.90 L508.71,674.90 L511.92,672.90 L515.13,669.80 L518.34,675.90 L521.55,671.80 L524.76,670.80 L527.97,671.80 L531.18,672.90 L534.39,673.90 L537.60,672.90 L540.81,672.90 L544.02,675.30 L547.23,674.90 L550.44,675.90 L553.65,675.30 L556.86,673.90 L560.07,669.80 L563.28,674.50 L566.49,669.80 L569.70,670.00 L572.91,677.00 L576.12,675.90 L579.33,671.80 L582.54,669.80 L585.75,672.90 L588.96,675.90 L592.17,668.80 L595.38,664.70 L598.59,663.70 L601.80,674.90 L605.01,670.80 L608.22,659.60 L611.43,670.80 L614.64,670.80 L617.85,657.60 L621.06,668.00 L624.27,643.00 L627.48,607.50 L630.69,629.50 L633.90,535.00 L637.11,512.00 L640.32,572.50 L643.53,564.00 L646.74,572.00 L649.95,587.00 L653.16,664.00 L656.37,629.40 L659.58,645.20 L662.79,646.40 L666.00,654.20 L669.21,653.00 L672.42,663.30 L675.63,658.50 L678.84,653.00 L682.05,650.20 L685.26,651.40 L688.47,668.50 L691.68,673.40 L694.89,651.40 L698.10,633.10 L701.31,638.00 L704.52,622.10 L707.73,611.10 L710.94,624.60 L714.15,635.60 L717.36,614.80 L720.57,624.60 L723.78,640.40 L726.99,647.80" fill="none" stroke="#ff0000" stroke-width="2.8" stroke-linejoin="round" stroke-linecap="round"/>
<path d="M62.51,656.50 L65.72,648.40 L68.93,624.90 L72.14,633.10 L75.35,635.10 L78.56,637.80 L81.77,593.30 L84.98,633.10 L88.19,621.80 L91.40,623.90 L94.61,629.00 L97.82,593.30 L101.03,641.20 L104.24,654.50 L107.45,635.10 L110.66,647.30 L113.87,645.30 L117.08,584.10 L120.29,588.20 L123.50,611.60 L126.71,588.20 L129.92,585.10 L133.13,520.00 L136.34,451.30 L139.55,562.70 L142.76,490.00 L145.97,430.10 L149.18,427.70 L152.39,504.60 L155.60,555.00 L158.81,559.60 L162.02,605.50 L165.23,578.00 L168.44,550.00 L171.65,527.00 L174.86,537.50 L178.07,541.50 L181.28,541.50 L184.49,597.30 L187.70,609.60 L190.91,571.80 L194.12,636.10 L197.33,555.50 L200.54,556.50 L203.75,588.20 L206.96,588.20 L210.17,588.20 L213.38,609.60 L216.59,630.00 L219.80,608.60 L223.01,623.90 L226.22,638.20 L229.43,584.10 L232.64,630.00 L235.85,622.90 L239.06,616.70 L242.27,630.00 L245.48,624.90 L248.69,630.00 L251.90,635.10 L255.11,625.90 L258.32,625.90 L261.53,635.10 L264.74,619.80 L267.95,648.40 L271.16,652.40 L274.37,630.00 L277.58,604.50 L280.79,617.80 L284.00,630.00 L287.21,613.70 L290.42,597.30 L293.63,524.70 L296.84,578.00 L300.05,444.20 L303.26,440.90 L306.47,554.50 L309.68,584.10 L312.89,590.20 L316.10,581.00 L319.31,597.30 L322.52,643.30 L325.73,614.70 L328.94,630.00 L332.15,641.20 L335.36,642.20 L338.57,645.30 L341.78,630.00 L344.99,641.20 L348.20,638.20 L351.41,634.10 L354.62,621.80 L357.83,601.40 L361.04,584.70 L364.25,586.10 L367.46,615.70 L370.67,646.30 L373.88,625.90 L377.09,611.60 L380.30,603.50 L383.51,631.00 L386.72,597.30 L389.93,625.90 L393.14,652.40 L396.36,611.60 L399.57,625.90 L402.78,643.30 L405.99,643.30 L409.20,615.70 L412.41,638.20 L415.62,650.40 L418.83,646.30 L422.04,657.60 L425.25,638.20 L428.46,637.10 L431.67,650.40 L434.88,621.80 L438.09,635.10 L441.30,635.10 L444.51,635.10 L447.72,605.50 L450.93,601.40 L454.14,576.90 L457.35,602.40 L460.56,608.60 L463.77,579.00 L466.98,574.90 L470.19,617.80 L473.40,636.10 L476.61,620.80 L479.82,635.10 L483.03,635.10 L486.24,646.30 L489.45,658.60 L492.66,648.40 L495.87,636.10 L499.08,652.40 L502.29,651.40 L505.50,648.40 L508.71,653.50 L511.92,640.20 L515.13,633.10 L518.34,635.10 L521.55,654.50 L524.76,630.00 L527.97,643.30 L531.18,653.50 L534.39,656.50 L537.60,656.50 L540.81,639.20 L544.02,652.40 L547.23,656.50 L550.44,667.80 L553.65,665.70 L556.86,661.60 L560.07,647.30 L563.28,663.70 L566.49,658.60 L569.70,661.60 L572.91,657.60 L576.12,656.50 L579.33,644.30 L582.54,653.50 L585.75,651.40 L588.96,645.30 L592.17,653.50 L595.38,641.20 L598.59,643.30 L601.80,646.30 L605.01,635.10 L608.22,630.00 L611.43,614.70 L614.64,643.30 L617.85,636.10 L621.06,636.10 L624.27,581.00 L627.48,556.60 L630.69,562.70 L633.90,496.00 L637.11,429.70 L640.32,434.90 L643.53,433.90 L646.74,393.70 L649.95,439.00 L653.16,530.40 L656.37,562.50 L659.58,546.80 L662.79,566.00 L666.00,575.00 L669.21,590.00 L672.42,608.00 L675.63,612.40 L678.84,596.00 L682.05,592.80 L685.26,609.90 L688.47,629.50 L691.68,602.60 L694.89,567.00 L698.10,554.00 L701.31,552.60 L704.52,533.80 L707.73,503.00 L710.94,498.00 L714.15,554.00 L717.36,510.00 L720.57,504.80 L723.78,551.00 L726.99,552.60" fill="none" stroke="#1f4b92" stroke-width="2.8" stroke-linejoin="round" stroke-linecap="round"/>
<text x="9" y="403" font-size="16" font-weight="bold">b</text>
<text transform="translate(19.0,149.6) rotate(-90)" text-anchor="middle" font-size="16" font-weight="bold">Reported malaria cases</text>
<text transform="translate(779,175.9) rotate(-90)" text-anchor="middle" font-size="16" font-weight="bold">River level (meters)</text>
<text transform="translate(19.0,533.6) rotate(-90)" text-anchor="middle" font-size="16" font-weight="bold">Reported malaria cases</text>
<text transform="translate(776.9,537.3) rotate(-90)" text-anchor="middle" font-size="16" font-weight="bold">River level (meters)</text>
<rect x="125.8" y="342.5" width="22.5" height="9.5" fill="url(#hatch)"/>
<text x="154.2" y="352.8" font-size="14.8">Amazonas River level</text>
<line x1="359.4" y1="347.5" x2="382.0" y2="347.5" stroke="#74932f" stroke-width="2.5" stroke-linecap="round"/>
<text x="389" y="352.8" font-size="14.8">Iquitos district</text>
<line x1="526.8000000000001" y1="347.5" x2="549.4" y2="347.5" stroke="#e56d0a" stroke-width="2.5" stroke-linecap="round"/>
<text x="556.6" y="352.8" font-size="14.8">Lupuna (LUP)</text>
<rect x="104.2" y="728.9" width="22.5" height="9.5" fill="url(#hatch)"/>
<text x="133.3" y="739.1999999999999" font-size="14.8">Amazonas River level</text>
<line x1="340.0" y1="733.9" x2="362.6" y2="733.9" stroke="#1f4b92" stroke-width="2.5" stroke-linecap="round"/>
<text x="369.3" y="739.1999999999999" font-size="14.8">San Juan district</text>
<line x1="538.4000000000001" y1="733.9" x2="561.0" y2="733.9" stroke="#ff0000" stroke-width="2.5" stroke-linecap="round"/>
<text x="566.6" y="739.1999999999999" font-size="14.8">Cahuide (CAH)</text>
</svg>
</body></html>
